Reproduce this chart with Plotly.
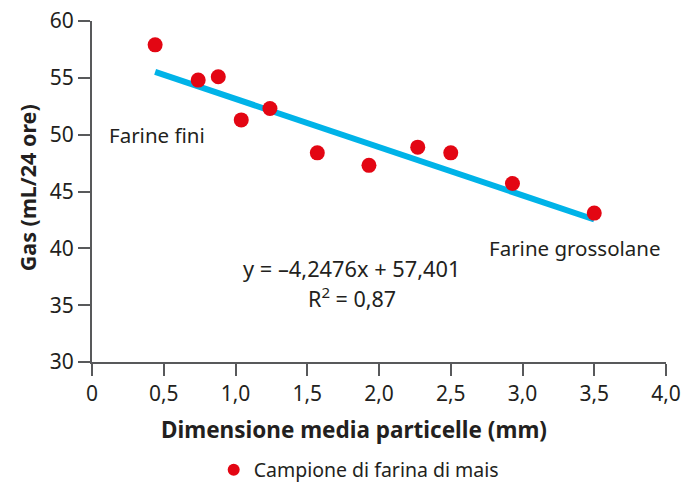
import plotly.graph_objects as go

# Data
particle_mm = [0.44, 0.74, 0.88, 1.04, 1.24, 1.57, 1.93, 2.27, 2.50, 2.93, 3.50]
gas_ml = [57.9, 54.8, 55.1, 51.3, 52.3, 48.4, 47.3, 48.9, 48.4, 45.7, 43.1]
slope = -4.2476
intercept = 57.401
x_tickvals = [0, 0.5, 1.0, 1.5, 2.0, 2.5, 3.0, 3.5, 4.0]
x_ticktext = ["0", "0,5", "1,0", "1,5", "2,0", "2,5", "3,0", "3,5", "4,0"]
y_tickvals = [30, 35, 40, 45, 50, 55, 60]

FONT = "Noto Sans"
TXT = "#231f20"
AX = "#58595b"

xmin, xmax = min(particle_mm), max(particle_mm)
trend_x = [xmin, xmax]
trend_y = [slope * v + intercept for v in trend_x]

fig = go.Figure()
fig.add_trace(go.Scatter(x=trend_x, y=trend_y, mode="lines",
                         line=dict(color="#00b3e8", width=6),
                         showlegend=False, hoverinfo="skip"))
fig.add_trace(go.Scatter(x=particle_mm, y=gas_ml, mode="markers",
                         marker=dict(color="#e30613", size=15),
                         name="Campione di farina di mais"))

def note(x, y, text, size=21, xref="x", yref="y", bold=False, angle=0):
    fig.add_annotation(x=x, y=y, xref=xref, yref=yref,
                       text=f"<b>{text}</b>" if bold else text,
                       showarrow=False, xanchor="center", yanchor="middle",
                       textangle=angle,
                       font=dict(family=FONT, size=size, color=TXT))

note(0.453, 50.0, "Farine fini", size=20.5)
note(3.366, 40.0, "Farine grossolane", size=20.5)
note(1.81, 38.2, "y = \u20134,2476x + 57,401", size=21.8)
note(1.81, 35.7, "R<sup>2</sup> = 0,87", size=21.5)
# axis titles
note(0.456, -0.199, "Dimensione media particelle (mm)", size=22.5, xref="paper", yref="paper", bold=True)
note(-0.113, 0.51, "Gas (mL/24 ore)", size=21.5, xref="paper", yref="paper", bold=True, angle=-90)

# page body has an 8px margin, so the figure is sized/offset to compensate
fig.update_layout(
    width=686, height=477,
    margin=dict(l=84, r=28, t=13, b=123, autoexpand=False),
    paper_bgcolor="white", plot_bgcolor="white",
    font=dict(family=FONT, color=TXT),
    legend=dict(orientation="h", x=0.212, xanchor="left", y=-0.317, yanchor="middle",
                font=dict(family=FONT, size=19.5, color=TXT), itemsizing="constant"),
    xaxis=dict(range=[0, 4], tickvals=x_tickvals, ticktext=x_ticktext, automargin=False,
               ticklabeloverflow="allow",
               showgrid=False, zeroline=False, showline=True, linecolor=AX, linewidth=2,
               ticks="outside", ticklen=12, tickcolor=AX, tickwidth=1.5,
               tickfont=dict(family=FONT, size=21, color=TXT)),
    yaxis=dict(range=[30, 60], tickvals=y_tickvals, automargin=False,
               ticklabeloverflow="allow",
               showgrid=False, zeroline=False, showline=True, linecolor=AX, linewidth=2,
               ticks="outside", ticklen=12, tickcolor=AX, tickwidth=1.5,
               tickfont=dict(family=FONT, size=21, color=TXT)),
)

fig.write_html("out.html")
